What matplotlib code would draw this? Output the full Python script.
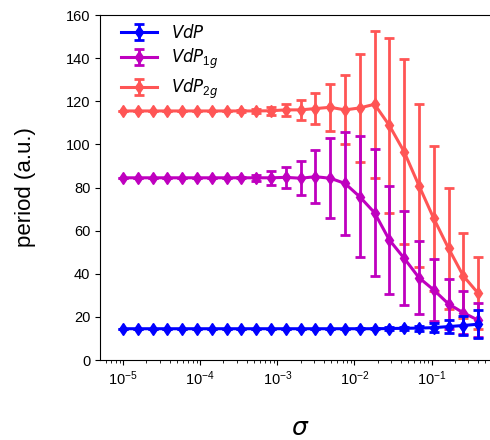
import numpy as np
import matplotlib
matplotlib.use("Agg")
from matplotlib import pyplot as plt

plt.rcParams['font.family'] = ['Liberation Sans', 'DejaVu Sans']
plt.rcParams['mathtext.fontset'] = 'custom'
plt.rcParams['mathtext.rm'] = 'Liberation Sans'
plt.rcParams['mathtext.it'] = 'DejaVu Sans:italic'
plt.rcParams['mathtext.bf'] = 'DejaVu Sans:bold'

# sigma values (log spaced)
sigma = [1.0e-5, 1.555e-5, 2.419e-5, 3.76e-5, 5.85e-5, 9.1e-5, 1.415e-4, 2.2e-4,
         3.42e-4, 5.32e-4, 8.28e-4, 1.287e-3, 2.0e-3, 3.11e-3, 4.84e-3, 7.53e-3,
         1.171e-2, 1.82e-2, 2.83e-2, 4.4e-2, 6.85e-2, 0.1065, 0.1657, 0.2577, 0.4]

vdp = [14.5, 14.5, 14.5, 14.5, 14.5, 14.5, 14.5, 14.5, 14.5, 14.5, 14.5, 14.5,
       14.5, 14.5, 14.5, 14.5, 14.5, 14.5, 14.6, 14.7, 14.8, 15.0, 15.5, 16.0, 16.6]
vdp_err = [0, 0, 0, 0, 0, 0, 0, 0, 0, 0, 0, 0, 0, 0, 0, 0, 0.2, 0.3, 0.5, 0.8,
           1.2, 2.0, 3.0, 4.5, 6.5]

vdp1 = [84.5, 84.5, 84.5, 84.5, 84.5, 84.5, 84.5, 84.5, 84.5, 84.5, 84.5, 84.7,
        84.3, 85.0, 84.3, 81.9, 75.7, 68.3, 55.7, 47.2, 38.2, 32.5, 26.0, 21.9, 18.5]
vdp1_err = [0, 0, 0, 0, 0, 0, 0, 0, 0.3, 1.5, 3.3, 5.0, 8.0, 12.3, 18.5, 23.7,
            28.0, 29.4, 25.0, 21.7, 16.8, 14.5, 11.4, 10.0, 8.0]

vdp2 = [115.5, 115.5, 115.5, 115.5, 115.5, 115.5, 115.5, 115.5, 115.5, 115.5, 115.6,
        116.0, 116.0, 116.6, 117.2, 116.0, 116.9, 118.6, 108.8, 96.6, 80.9, 65.7,
        51.8, 39.0, 31.0]
vdp2_err = [0, 0, 0, 0, 0, 0, 0, 0, 0.3, 1.0, 1.9, 2.7, 4.5, 7.2, 11.0, 16.0,
            25.0, 34.0, 40.6, 43.0, 38.0, 33.5, 28.0, 19.7, 16.6]

labels = [r'$VdP$', r'$VdP_{1g}$', r'$VdP_{2g}$']
colors = ['#0000FF', '#BF00BF', '#FF5555']

fig = plt.figure(figsize=(4.9, 4.4), dpi=100)
ax = fig.add_axes([100 / 490, 80 / 440, 401 / 490, 345 / 440])

series = [(vdp, vdp_err), (vdp1, vdp1_err), (vdp2, vdp2_err)]
zs = [3, 2, 1]
for (y, e), lab, c, z in zip(series, labels, colors, zs):
    ax.errorbar(sigma, y, yerr=e, color=c, label=lab, marker='d', markersize=6,
                linewidth=2.2, elinewidth=2, capsize=3.5, capthick=2, zorder=z)

ax.set_xscale('log')
ax.set_xlim(10 ** -5.3, 10 ** -0.1)
ax.set_ylim(0, 160)
ax.set_yticks(np.arange(0, 161, 20))
ax.tick_params(labelsize=10.5)
ax.set_xlabel(r'$\sigma$', fontsize=18, labelpad=20)
ax.set_ylabel('period (a.u.)', fontsize=16, labelpad=21)
ax.legend(loc='upper left', bbox_to_anchor=(0.035, 0.997), frameon=False,
          fontsize=12, handlelength=2.2, borderaxespad=0, labelspacing=0.35)

fig.savefig('out.png', dpi=100)
